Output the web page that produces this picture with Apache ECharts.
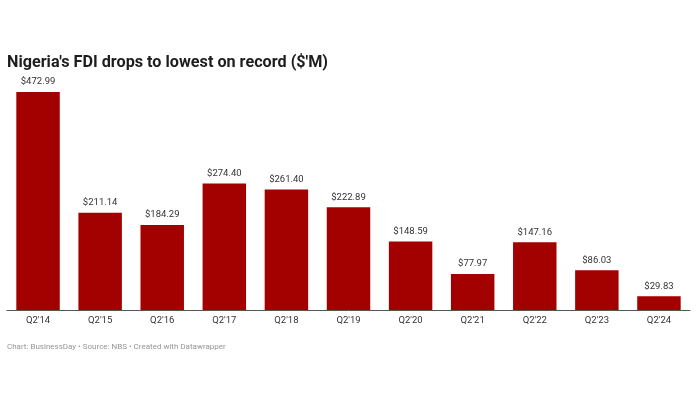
<!DOCTYPE html>
<html><head><meta charset="utf-8">
<script src="https://cdn.jsdelivr.net/npm/echarts@6/dist/echarts.min.js"></script>
<style>html,body{margin:0;padding:0;background:#fff}#c{width:700px;height:400px}</style>
</head><body><div id="c"></div>
<script>
var categories = ["Q2'14","Q2'15","Q2'16","Q2'17","Q2'18","Q2'19","Q2'20","Q2'21","Q2'22","Q2'23","Q2'24"];
var fdiValues = [472.99,211.14,184.29,274.40,261.40,222.89,148.59,77.97,147.16,86.03,29.83];
var chart = echarts.init(document.getElementById('c'));
chart.setOption({
  animation:false,
  title:[{text:"Nigeria's FDI drops to lowest on record ($'M)",left:2,top:50,
    textStyle:{fontFamily:'Roboto',fontWeight:'bold',fontSize:16.2,color:'#1d1d1d'}},
    {text:"Chart: BusinessDay \u2022 Source: NBS \u2022 Created with Datawrapper",left:2,top:338,
    textStyle:{fontFamily:'Roboto',fontWeight:'normal',fontSize:8,color:'#969696'}}],
  grid:{left:7,right:10,top:92,bottom:90},
  xAxis:{type:'category',data:categories,
    axisLine:{lineStyle:{color:'#555',width:1}},axisTick:{show:false},
    axisLabel:{fontFamily:'Roboto',fontSize:9.5,color:'#333',margin:6}},
  yAxis:{type:'value',min:0,max:472.99,show:false,splitLine:{show:false}},
  series:[{type:'bar',data:fdiValues,barCategoryGap:'30%',
    itemStyle:{color:'#a30000'},
    label:{show:true,position:'top',distance:5,fontFamily:'Roboto',fontSize:9.5,color:'#333',
      formatter:function(p){return '$'+p.value.toFixed(2);}}}]
});
</script></body></html>
